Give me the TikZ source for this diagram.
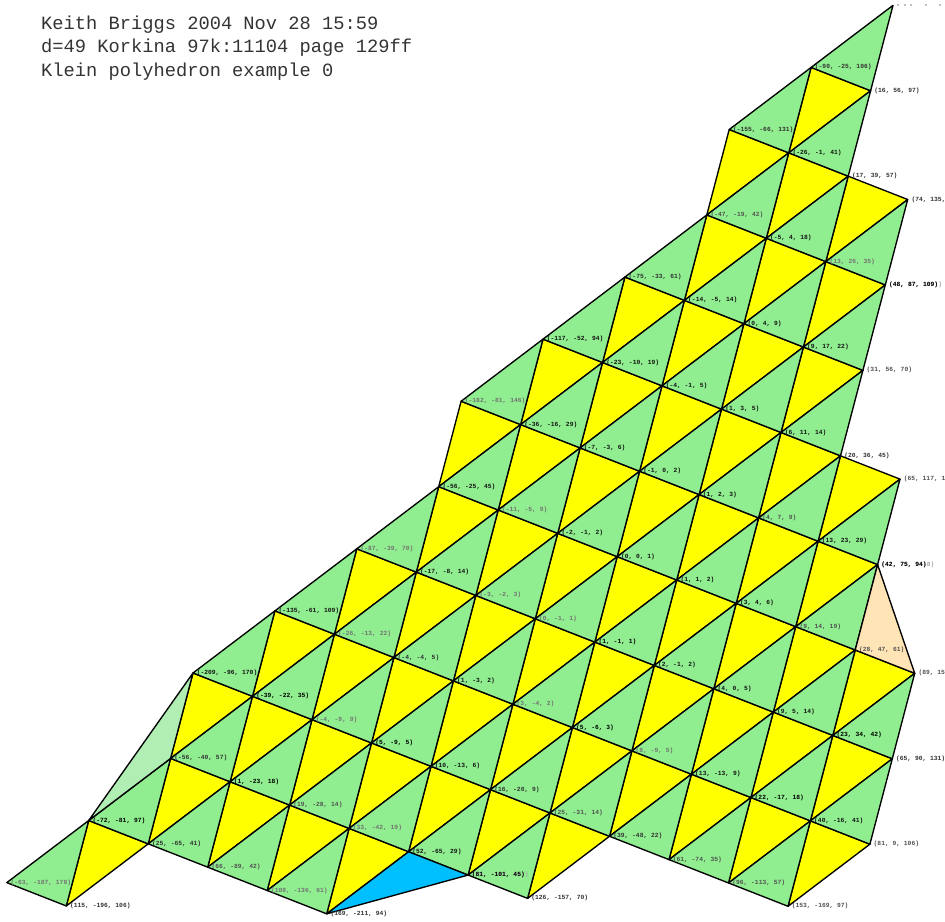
\documentclass[tikz,border=0pt]{standalone}
\usepackage{fontspec}
\setmonofont{Liberation Mono}
\definecolor{klgreen}{HTML}{90EE90}
\definecolor{klyellow}{HTML}{FFFF00}
\definecolor{klblue}{HTML}{00BFFF}
\definecolor{klpeach}{HTML}{FFE4B5}
\definecolor{klpale}{HTML}{B0EEB4}
\tikzset{
  face/.style={draw=black,line width=1.35pt,line join=round},
  greenface/.style={face,fill=klgreen},
  yellowface/.style={face,fill=klyellow},
  vlabel/.style={inner sep=0pt,anchor=west,xshift=3.6pt,yshift=0.1pt,font=\ttfamily\bfseries\fontsize{6.3}{7}\selectfont},
  a/.style={vlabel,text=black},
  b/.style={vlabel,text=black!92},
  c/.style={vlabel,text=black!80},
  d/.style={vlabel,text=black!68},
  e/.style={vlabel,text=black!55},
  title/.style={inner sep=0pt,anchor=base west,text=black!80,font=\ttfamily\fontsize{18.73}{20}\selectfont},
}
\begin{document}
\begin{tikzpicture}[x=1pt,y=-1pt]
\useasboundingbox (0,0) rectangle (945,921);
% lattice vertices
\foreach \j/\a/\b in {-7/1/1,-6/0/1,-5/-1/2,-4/-1/2,-3/-2/2,-2/-3/3,-1/-4/3,0/-4/4,1/-5/4,2/-6/4,3/-7/3,4/-7/-1,5/-8/-4,6/-9/-8}{
  \foreach \i in {\a,...,\b}{
    \coordinate (v\i_\j) at ({676.7+\i*59.5-\j*22.4},{580+\i*23.33+\j*85.43});
  }
}
% yellow faces
\foreach \j/\a/\b in {-6/0/0,-5/-1/1,-4/-1/1,-3/-2/1,-2/-3/2,-1/-4/2,0/-4/3,1/-5/3,2/-6/3,3/-7/-1,4/-7/-4,5/-8/-8}{
  \foreach \i in {\a,...,\b}{
    \pgfmathtruncatemacro\ii{\i+1}\pgfmathtruncatemacro\jj{\j+1}
    \draw[yellowface] (v\i_\j) -- (v\ii_\j) -- (v\i_\jj) -- cycle;
  }
}
% green faces
\foreach \j/\a/\b in {-6/0/0,-5/-1/0,-4/-1/1,-3/-2/1,-2/-3/1,-1/-4/2,0/-4/2,1/-5/3,2/-6/3,3/-7/2,4/-7/-2,5/-8/-5,6/-9/-9}{
  \foreach \i in {\a,...,\b}{
    \pgfmathtruncatemacro\ii{\i+1}\pgfmathtruncatemacro\jj{\j-1}
    \draw[greenface] (v\i_\j) -- (v\ii_\j) -- (v\ii_\jj) -- cycle;
  }
}
% special faces
\draw[face,fill=klpeach] (v3_-1) -- (v4_0) -- (v3_0) -- cycle;
\draw[face,fill=klblue] (v-3_4) -- (v-2_4) -- (v-4_5) -- cycle;
\draw[face,fill=klpale] (v-7_3) -- (v-7_4) -- (v-8_5) -- cycle;
% fragments of a label cut off by the top edge
\foreach \x in {897,904,910,925,939}{\fill[black!25] (\x,4.4) rectangle (\x+1.6,5.6);}
% vertex labels
\foreach \i/\j/\k/\t in {
0/-6/c/{(-90, -25, 106)},1/-6/c/{(16, 56, 97)},
-1/-5/c/{(-155, -66, 131)},0/-5/b/{(-26, -1, 41)},1/-5/c/{(17, 39, 57)},2/-5/c/{(74, 135,},
-1/-4/d/{(-47, -19, 42)},0/-4/b/{(-5, 4, 18)},1/-4/e/{(13, 26, 35)},
-2/-3/c/{(-75, -33, 61)},-1/-3/b/{(-14, -5, 14)},0/-3/b/{(0, 4, 9)},1/-3/b/{(9, 17, 22)},2/-3/d/{(31, 56, 70)},
-3/-2/b/{(-117, -52, 94)},-2/-2/b/{(-23, -10, 19)},-1/-2/b/{(-4, -1, 5)},0/-2/b/{(1, 3, 5)},1/-2/b/{(6, 11, 14)},2/-2/c/{(20, 36, 45)},3/-2/d/{(65, 117, 1},
-4/-1/e/{(-182, -81, 146)},-3/-1/b/{(-36, -16, 29)},-2/-1/b/{(-7, -3, 6)},-1/-1/b/{(-1, 0, 2)},0/-1/b/{(1, 2, 3)},1/-1/d/{(4, 7, 9)},2/-1/b/{(13, 23, 29)},
-4/0/b/{(-56, -25, 45)},-3/0/e/{(-11, -5, 9)},-2/0/b/{(-2, -1, 2)},-1/0/b/{(0, 0, 1)},0/0/b/{(1, 1, 2)},1/0/b/{(3, 4, 6)},2/0/d/{(9, 14, 19)},3/0/d/{(28, 47, 61)},4/0/d/{(89, 15},
-5/1/e/{(-87, -39, 70)},-4/1/b/{(-17, -8, 14)},-3/1/e/{(-3, -2, 3)},-2/1/e/{(0, -1, 1)},-1/1/a/{(1, -1, 1)},0/1/b/{(2, -1, 2)},1/1/b/{(4, 0, 5)},2/1/b/{(9, 5, 14)},3/1/a/{(23, 34, 42)},4/1/c/{(65, 90, 131)},
-6/2/b/{(-135, -61, 109)},-5/2/e/{(-26, -13, 22)},-4/2/c/{(-4, -4, 5)},-3/2/b/{(1, -3, 2)},-2/2/e/{(3, -4, 2)},-1/2/a/{(5, -6, 3)},0/2/e/{(8, -9, 5)},1/2/b/{(13, -13, 9)},2/2/a/{(22, -17, 18)},3/2/b/{(40, -16, 41)},4/2/d/{(81, 9, 106)},
-7/3/b/{(-209, -96, 170)},-6/3/a/{(-39, -22, 35)},-5/3/e/{(-4, -9, 9)},-4/3/a/{(5, -9, 5)},-3/3/b/{(10, -13, 6)},-2/3/c/{(16, -20, 9)},-1/3/d/{(25, -31, 14)},0/3/c/{(39, -48, 22)},1/3/d/{(61, -74, 35)},2/3/d/{(96, -113, 57)},3/3/d/{(153, -169, 97)},
-7/4/c/{(-56, -40, 57)},-6/4/a/{(1, -23, 18)},-5/4/d/{(19, -28, 14)},-4/4/e/{(33, -42, 19)},-3/4/b/{(52, -65, 29)},-1/4/c/{(126, -157, 70)},
-8/5/a/{(-72, -81, 97)},-7/5/c/{(25, -65, 41)},-6/5/d/{(66, -89, 42)},-5/5/e/{(108, -136, 61)},-4/5/c/{(169, -211, 94)},
-9/6/e/{(-63, -187, 178)},-8/6/c/{(115, -196, 106)}}{
  \node[\k] (l\i_\j) at (v\i_\j) {\t};
}
% coincident labels
\node[vlabel,text=black!35] (lg1) at (v2_-4) {(48, 87, 109))};
\node[a] (l2_-4) at (v2_-4) {(48, 87, 109)};
\node[vlabel,text=black!35] (lg2) at (v3_-1) {(42, 75, 94)8)};
\node[a] (l3_-1) at (v3_-1) {(42, 75, 94)};
\node[vlabel,text=black!35] (lg3) at (v-2_4) {(82, -102, 46))};
\node[a] (l-2_4) at (v-2_4) {(81, -101, 45)};
% heading
\node[title] (t1) at (41,29.3) {Keith Briggs 2004 Nov 28 15:59};
\node[title] (t2) at (41,52.8) {d=49 Korkina 97k:11104 page 129ff};
\node[title] (t3) at (41,76.3) {Klein polyhedron example 0};
\end{tikzpicture}
\end{document}
